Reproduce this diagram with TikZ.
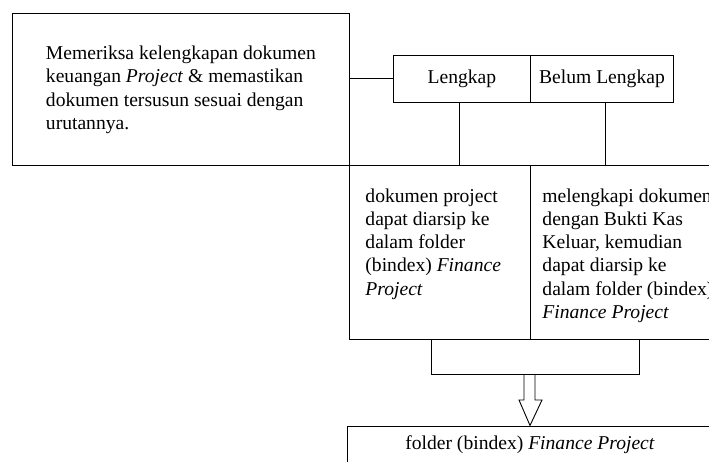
\documentclass[tikz,border=0pt]{standalone}
\usepackage{fontspec}
\setmainfont{Liberation Serif}
\begin{document}
\begin{tikzpicture}[x=1pt,y=-1pt,line width=0.9pt,
  box/.style={draw,rectangle,inner sep=0pt,anchor=north west},
  txt/.style={font=\fontsize{19.6}{23.3}\selectfont,align=left,inner sep=0pt}]
\useasboundingbox (0,0) rectangle (709,462);
\node[box,txt,minimum width=337pt,minimum height=152.5pt] (main) at (12,13)
  {Memeriksa kelengkapan dokumen\\keuangan \textit{Project} \& memastikan\\dokumen tersusun sesuai dengan\\urutannya.};
\node[box,txt,align=center,minimum width=137pt,minimum height=47pt] (lengkap) at (393,55) {Lengkap};
\node[box,txt,align=center,minimum width=143pt,minimum height=47pt] (belum) at (530,55) {Belum Lengkap};
\node[box,minimum width=181pt,minimum height=173.5pt] (left) at (349,165.5) {};
\node[box,minimum width=190pt,minimum height=173.5pt] (right) at (530,165.5) {};
\node[txt,anchor=north west] (lefttxt) at (365,188)
  {dokumen project\\dapat diarsip ke\\dalam folder\\(bindex) \textit{Finance}\\\textit{Project}};
\node[txt,anchor=north west] (righttxt) at (542,188)
  {melengkapi dokumen\\dengan Bukti Kas\\Keluar, kemudian\\dapat diarsip ke\\dalam folder (bindex)\\\textit{Finance Project}};
\node[box,txt,align=center,minimum width=380pt,minimum height=60pt] (folder) at (347,426) {};
\node[txt] (foldertxt) at (530,445) {folder (bindex) \textit{Finance Project}};
% connectors
\draw (main.east |- lengkap.west) -- (lengkap.west);
\draw ([xshift=-3pt]lengkap.south) -- ([xshift=-3pt]lengkap.south |- left.north);
\draw ([xshift=3.5pt]belum.south) -- ([xshift=3.5pt]belum.south |- right.north);
\coordinate (bl) at (431,374);
\coordinate (br) at (639,374);
\draw (bl |- left.south) -- (bl) -- (br) -- (br |- right.south);
\coordinate (tip) at (530,425.5);
\draw[line join=miter] (524,374) -- (524,400) -- (519,400) -- (tip) -- (542,400) -- (535,400) -- (535,374);
\end{tikzpicture}
\end{document}
